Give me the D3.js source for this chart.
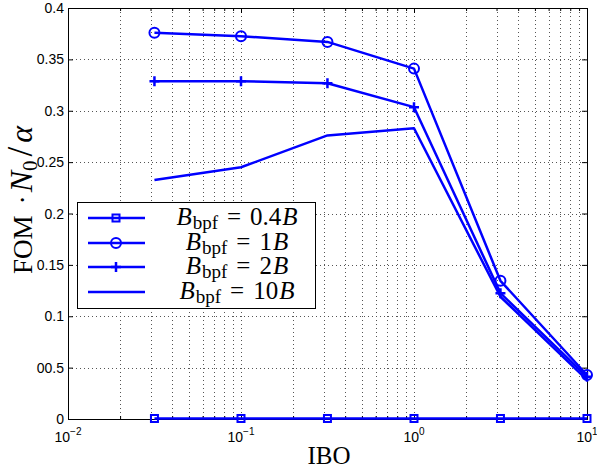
<!DOCTYPE html>
<html><head><meta charset="utf-8">
<script src="https://cdn.jsdelivr.net/npm/d3@7"></script>
<style>body{margin:0;background:#fff}svg{display:block}</style>
</head><body>
<svg id="c" width="597" height="472"></svg>
<script>
const ibo = [0.0316, 0.1, 0.316, 1, 3.16, 10];
const seriesNames = ["0.4B", "1B", "2B", "10B"];
const markers = ["square", "circle", "plus", "none"];
const val04 = [0.0005, 0.0005, 0.0005, 0.0005, 0.0005, 0.0005];
const val1 = [0.376, 0.3725, 0.367, 0.341, 0.1345, 0.0428];
const val2 = [0.3287, 0.3287, 0.3267, 0.3035, 0.1225, 0.041];
const val10 = [0.2325, 0.245, 0.276, 0.283, 0.119, 0.038];
const yTicks = [0, 0.05, 0.1, 0.15, 0.2, 0.25, 0.3, 0.35, 0.4];
const yTickLabels = ["0", "00.5", "0.1", "0.15", "0.2", "0.25", "0.3", "0.35", "0.4"];
const xTicks = [0.01, 0.1, 1, 10];
const xTickExp = ["−2", "−1", "0", "1"];

const allVals = [val04, val1, val2, val10];
const svg = d3.select("#c");
const L = 68, R = 587, T = 8, B = 419;
const x = d3.scaleLog().domain([0.01, 10]).range([L, R]);
const y = d3.scaleLinear().domain([0, 0.4]).range([B, T]);
const blue = "#0000ff";

const minor = [];
for (let d = -2; d < 1; d++) for (let k = 2; k <= 9; k++) minor.push(k * Math.pow(10, d));

const g = svg.append("g");
g.selectAll(".vg").data(minor.concat(xTicks.slice(1, 3))).enter().append("line")
  .attr("x1", d => Math.round(x(d)) + 0.5).attr("x2", d => Math.round(x(d)) + 0.5)
  .attr("y1", T).attr("y2", B)
  .attr("stroke", "#555").attr("stroke-width", 1).attr("stroke-dasharray", "1,3");
g.selectAll(".hg").data(yTicks.slice(1, -1)).enter().append("line")
  .attr("x1", L).attr("x2", R)
  .attr("y1", d => Math.round(y(d)) + 0.5).attr("y2", d => Math.round(y(d)) + 0.5)
  .attr("stroke", "#555").attr("stroke-width", 1).attr("stroke-dasharray", "1,3");

const ax = d3.axisBottom(x).tickValues(xTicks).tickSize(-5).tickFormat("");
const axMinor = d3.axisBottom(x).tickValues(minor).tickSize(-3).tickFormat("");
const axTop = d3.axisTop(x).tickValues(xTicks).tickSize(-5).tickFormat("");
const axTopMinor = d3.axisTop(x).tickValues(minor).tickSize(-3).tickFormat("");
const ay = d3.axisLeft(y).tickValues(yTicks).tickSize(-5).tickFormat("");
const ayR = d3.axisRight(y).tickValues(yTicks).tickSize(-5).tickFormat("");
function style(sel) { sel.selectAll("path,line").attr("stroke", "#000").attr("stroke-width", 1); }
svg.append("g").attr("transform", `translate(0,${B})`).call(ax).call(style);
svg.append("g").attr("transform", `translate(0,${B})`).call(axMinor).call(style).select(".domain").remove();
svg.append("g").attr("transform", `translate(0,${T})`).call(axTop).call(style);
svg.append("g").attr("transform", `translate(0,${T})`).call(axTopMinor).call(style).select(".domain").remove();
svg.append("g").attr("transform", `translate(${L},0)`).call(ay).call(style);
svg.append("g").attr("transform", `translate(${R},0)`).call(ayR).call(style);

const tf = "'Liberation Sans', Arial, sans-serif";
svg.append("g").selectAll("text").data(yTicks).enter().append("text")
  .attr("x", L - 4).attr("y", d => y(d) + 5)
  .attr("text-anchor", "end").attr("font-family", tf).attr("font-size", 14)
  .text((d, i) => yTickLabels[i]);
const xl = svg.append("g").selectAll("text").data(xTicks).enter().append("text")
  .attr("x", d => x(d)).attr("y", 442)
  .attr("text-anchor", "middle").attr("font-family", tf).attr("font-size", 14);
xl.append("tspan").text("10");
xl.append("tspan").attr("dy", -7).attr("font-size", 10).text((d, i) => xTickExp[i]);

const serif = "'Liberation Serif', 'Times New Roman', serif";
svg.append("text").attr("x", 329).attr("y", 464).attr("text-anchor", "middle")
  .attr("font-family", serif).attr("font-size", 25).text("IBO");
const yl = svg.append("text").attr("transform", "translate(32,200) rotate(-90)")
  .attr("text-anchor", "middle").attr("font-family", serif).attr("font-size", 27);
yl.append("tspan").text("FOM");
yl.append("tspan").attr("dx", 11).attr("font-size", 28).text("·");
yl.append("tspan").attr("dx", 3).attr("font-style", "italic").attr("font-size", 32).text("N");
yl.append("tspan").attr("font-size", 21).attr("dy", 5).text("0");
yl.append("tspan").attr("dy", -5).attr("dx", 4).attr("font-size", 35).text("/");
yl.append("tspan").attr("dx", 4).attr("font-style", "italic").attr("font-size", 32).text("α");

const line = d3.line().x((d, i) => x(ibo[i])).y(d => y(d));
function drawMarker(sel, type, cx, cy) {
  if (type === "square") sel.append("rect").attr("x", cx - 3.5).attr("y", cy - 3.5).attr("width", 7).attr("height", 7)
    .attr("fill", "none").attr("stroke", blue).attr("stroke-width", 2);
  else if (type === "circle") sel.append("circle").attr("cx", cx).attr("cy", cy).attr("r", 5)
    .attr("fill", "none").attr("stroke", blue).attr("stroke-width", 2);
  else if (type === "plus") sel.append("path").attr("d", `M${cx - 5},${cy}H${cx + 5}M${cx},${cy - 5}V${cy + 5}`)
    .attr("stroke", blue).attr("stroke-width", 2.5);
}
allVals.forEach((vals, si) => {
  const sg = svg.append("g");
  sg.append("path").datum(vals).attr("d", line).attr("fill", "none")
    .attr("stroke", blue).attr("stroke-width", 2.5).attr("stroke-linejoin", "round");
  vals.forEach((v, i) => drawMarker(sg, markers[si], x(ibo[i]), y(v)));
});

const lg = svg.append("g");
lg.append("rect").attr("x", 77.5).attr("y", 202.5).attr("width", 238).attr("height", 106)
  .attr("fill", "#fff").attr("stroke", "#000").attr("stroke-width", 1);
const rowsY = [218, 243, 267, 292];
seriesNames.forEach((nm, i) => {
  const ry = rowsY[i];
  lg.append("line").attr("x1", 88).attr("x2", 145).attr("y1", ry).attr("y2", ry)
    .attr("stroke", blue).attr("stroke-width", 2.5);
  drawMarker(lg, markers[i], 116, ry);
  const t = lg.append("text").attr("x", 237).attr("y", ry + 7).attr("text-anchor", "middle")
    .attr("font-family", serif).attr("font-size", 25);
  t.append("tspan").attr("font-style", "italic").text("B");
  t.append("tspan").attr("font-size", 19).attr("dy", 4).attr("dx", 1).text("bpf");
  t.append("tspan").attr("dy", -4).attr("dx", 9).text("=");
  t.append("tspan").attr("dx", 9).text(nm.replace("B", ""));
  t.append("tspan").attr("dx", 1).attr("font-style", "italic").text("B");
});
</script>
</body></html>
